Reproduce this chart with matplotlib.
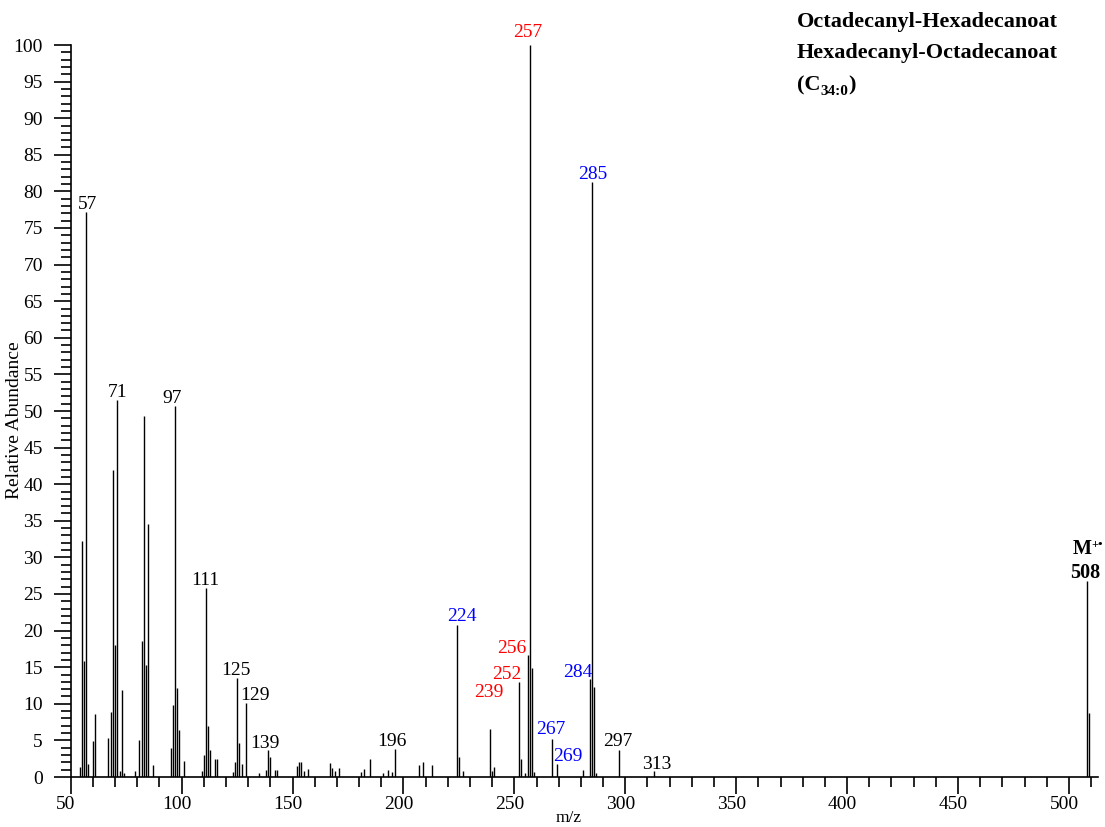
import matplotlib
matplotlib.use("Agg")
import matplotlib.pyplot as plt
import matplotlib.transforms as mtransforms

plt.rcParams['font.family'] = ['Liberation Serif', 'DejaVu Serif']
plt.rcParams['mathtext.fontset'] = 'custom'
plt.rcParams['mathtext.rm'] = 'Liberation Serif'
plt.rcParams['mathtext.bf'] = 'Liberation Serif:bold'

# ---- data ----
mz = [54, 55, 56, 57, 58, 60, 61, 67, 68, 69, 70, 71, 72, 73, 74, 79, 81, 82, 83, 84, 85, 87,
      95, 96, 97, 98, 99, 101, 109, 110, 111, 112, 113, 115, 116, 123, 124, 125, 126, 127, 129,
      135, 138, 139, 140, 142, 143, 152, 153, 154, 155, 157, 167, 168, 169, 171, 181, 182, 185,
      191, 193, 195, 196, 207, 209, 213, 224, 225, 227, 239, 240, 241, 252, 253, 255, 256, 257,
      258, 259, 267, 269, 281, 284, 285, 286, 287, 297, 313, 508, 509]
abundance = [1.4, 32.2, 15.8, 77.2, 1.8, 4.9, 8.6, 5.3, 8.9, 42.0, 18.1, 51.5, 0.8, 11.9, 0.5, 0.8,
             5.1, 18.6, 49.3, 15.3, 34.5, 1.6, 3.9, 9.8, 50.7, 12.2, 6.4, 2.2, 0.8, 3.0, 25.8, 6.9,
             3.7, 2.4, 2.4, 0.7, 2.0, 13.5, 4.7, 1.8, 10.1, 0.6, 0.9, 3.7, 2.8, 1.0, 1.0, 1.5, 2.0,
             2.0, 0.8, 1.1, 1.9, 1.2, 0.8, 1.2, 0.7, 1.1, 2.5, 0.5, 0.9, 0.7, 3.8, 1.7, 2.0, 1.6,
             20.7, 2.7, 0.8, 6.6, 0.8, 1.4, 13.0, 2.5, 0.6, 16.7, 100.0, 14.9, 0.7, 5.2, 1.8, 0.9,
             13.4, 81.3, 12.3, 0.6, 3.7, 0.8, 26.8, 8.8]

label_mz = [57, 71, 97, 111, 125, 129, 139, 196, 224, 239, 252, 256, 257, 267, 269, 284, 285, 297, 313]
label_color = ['black', 'black', 'black', 'black', 'black', 'black', 'black', 'black', 'blue',
               'red', 'red', 'red', 'red', 'blue', 'blue', 'blue', 'blue', 'black', 'black']
title_lines = ["Octadecanyl-Hexadecanoat", "Hexadecanyl-Octadecanoat"]
formula_parts = ["(C", "34:0", ")"]
mol_ion = ["M", "+•", "508"]
xlabel = "m/z"
ylabel = "Relative Abundance"

# label placement (m/z offset, abundance offset)
label_offsets = {57: (0.5, 0.4), 71: (0, 0.4), 97: (-1.2, 0.4), 111: (-0.5, 0.4), 125: (-0.5, 0.4),
                 129: (4.0, 0.4), 139: (-1.5, 0.3), 196: (-1.0, 0.4), 224: (2.2, 0.6),
                 239: (-0.3, 4.3), 252: (-5.3, 0.4), 256: (-7.2, 0.2), 257: (-0.8, 1.1),
                 267: (-0.5, 0.7), 269: (5.0, 0.4), 284: (-5.5, 0.3), 285: (0.2, 0.4),
                 297: (-0.5, 0.5), 313: (1.0, 0.3)}

W, H = 1105, 827
fig = plt.figure(figsize=(W / 100, H / 100), dpi=100)
ax = fig.add_axes([70.7 / W, 50 / H, (1097.8 - 70.7) / W, 732 / H])

ax.vlines(mz, 0, abundance, colors='black', linewidth=1.0)
ax.set_xlim(50, 513)
ax.set_ylim(0, 100)

ab = dict(zip(mz, abundance))
for m, c in zip(label_mz, label_color):
    dx, dy = label_offsets[m]
    ax.text(m + dx, ab[m] + dy, str(m), color=c, ha='center', va='baseline',
            fontsize=14, clip_on=False)

# molecular ion label
ax.text(508 - 0.8, ab[508] + 0.4, mol_ion[2], ha='center', va='baseline', fontsize=14.5,
        fontweight='bold', clip_on=False)
tM = ax.text(508 - 2.0, ab[508] + 3.6, mol_ion[0], ha='center', va='baseline', fontsize=14.5,
             fontweight='bold', clip_on=False)
ax.annotate(mol_ion[1], xy=(508 - 2.0, ab[508] + 3.6), xycoords='data',
            xytext=(6.5, 5), textcoords='offset points', ha='left', va='baseline',
            fontsize=9, fontweight='bold', annotation_clip=False)

for s in ['top', 'right']:
    ax.spines[s].set_visible(False)
ax.spines['left'].set_linewidth(1.2)
ax.spines['bottom'].set_linewidth(1.2)

ax.set_xticks(range(50, 501, 50))
ax.set_xticks(range(50, 511, 10), minor=True)
ax.set_yticks(range(0, 101, 5))
ax.set_yticks(range(0, 101, 1), minor=True)
ax.tick_params(axis='both', which='major', direction='out', length=12, width=1.2, labelsize=14)
ax.tick_params(axis='both', which='minor', direction='out', length=7, width=1.2)
ax.tick_params(axis='y', which='major', pad=8)
ax.tick_params(axis='x', which='major', pad=2)

offset = mtransforms.ScaledTranslation(-5 / 100, 0, fig.dpi_scale_trans)
for lab in ax.get_xticklabels():
    lab.set_transform(lab.get_transform() + offset)

fig.text(569 / W, 1 - 818 / H, xlabel, ha='center', va='center', fontsize=12.5)
fig.text(15 / W, 1 - 420 / H, ylabel, ha='center', va='center', rotation=90, fontsize=14)

fig.text(797 / W, 1 - 22 / H, title_lines[0], ha='left', va='center', fontsize=16, fontweight='bold')
fig.text(797 / W, 1 - 53 / H, title_lines[1], ha='left', va='center', fontsize=16, fontweight='bold')

# formula with subscript assembled from pieces
fig.canvas.draw()
renderer = fig.canvas.get_renderer()
t1 = fig.text(797 / W, 1 - 90 / H, formula_parts[0], ha='left', va='baseline', fontsize=16,
              fontweight='bold')
bb = t1.get_window_extent(renderer)
t2 = fig.text(bb.x1 / W, 1 - 95 / H, formula_parts[1], ha='left', va='baseline', fontsize=11,
              fontweight='bold')
bb2 = t2.get_window_extent(renderer)
fig.text(bb2.x1 / W, 1 - 90 / H, formula_parts[2], ha='left', va='baseline', fontsize=16,
         fontweight='bold')

fig.savefig("out.png", dpi=100)
